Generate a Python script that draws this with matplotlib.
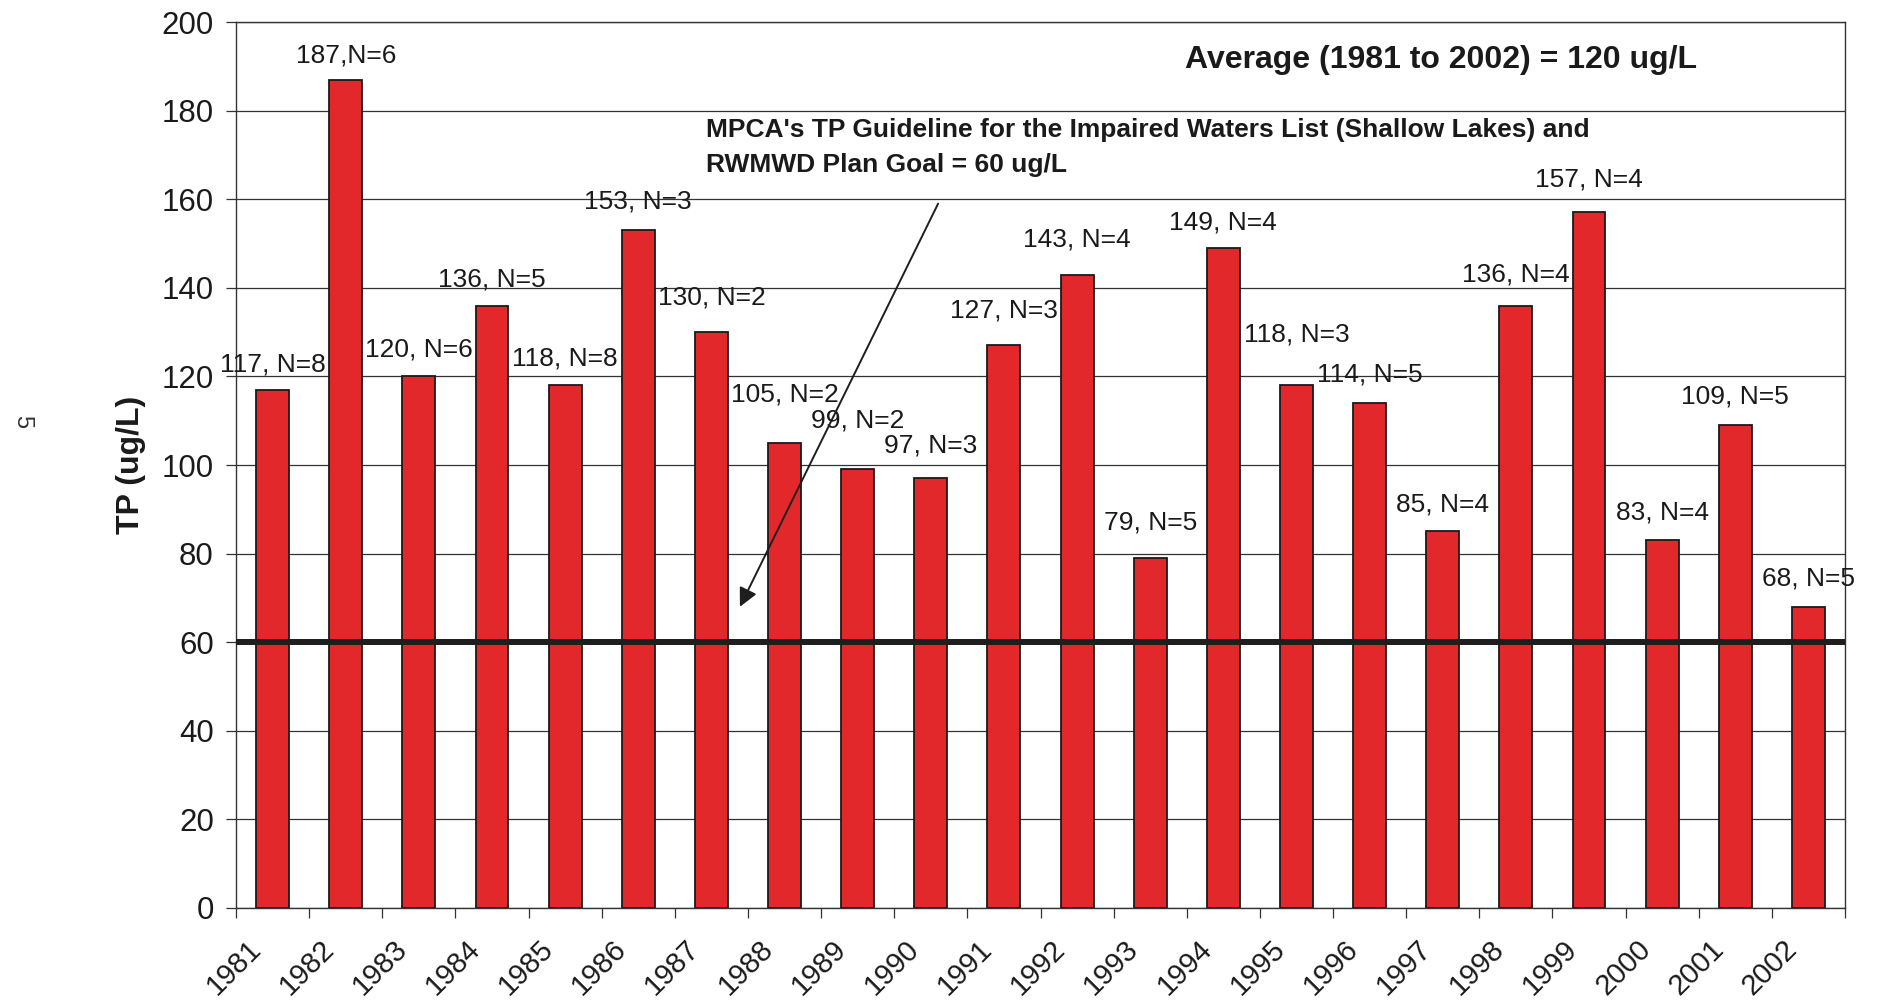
import matplotlib
matplotlib.use("Agg")
import matplotlib.pyplot as plt
from matplotlib.transforms import ScaledTranslation
import numpy as np

plt.rcParams['font.family'] = ['Liberation Sans', 'DejaVu Sans']

years = ['1981', '1982', '1983', '1984', '1985', '1986', '1987', '1988', '1989', '1990', '1991',
         '1992', '1993', '1994', '1995', '1996', '1997', '1998', '1999', '2000', '2001', '2002']
tp_values = [117, 187, 120, 136, 118, 153, 130, 105, 99, 97, 127,
             143, 79, 149, 118, 114, 85, 136, 157, 83, 109, 68]
n_samples = [8, 6, 6, 5, 8, 3, 2, 2, 2, 3, 3,
             4, 5, 4, 3, 5, 4, 4, 4, 4, 5, 5]
label_offsets = [6.3, 6.0, 6.6, 6.4, 6.6, 7.0, 8.4, 11.5, 11.6, 8.0, 8.5,
                 8.5, 8.5, 6.3, 12.0, 7.0, 6.6, 7.6, 8.0, 6.8, 7.0, 7.0]
guideline = 60
yticks = [0, 20, 40, 60, 80, 100, 120, 140, 160, 180, 200]

fig = plt.figure(figsize=(18.81, 10.06), dpi=100)
ax = fig.add_axes([0.12547, 0.09742, 0.8554, 0.8807])

x = np.arange(len(years))
ax.bar(x, tp_values, width=0.45, color='#E3282C', edgecolor='#1a1a1a', linewidth=1.3, zorder=2)

ax.set_xlim(-0.5, len(years) - 0.5)
ax.set_ylim(0, 200)
ax.set_yticks(yticks)
ax.set_yticklabels([str(v) for v in yticks], fontsize=22.5, color='#1a1a1a')
ax.yaxis.grid(True, color='#333333', linewidth=0.9)
ax.set_axisbelow(True)
ax.tick_params(axis='y', direction='out', length=7, width=0.9, pad=9, color='#333333')

ax.set_xticks(x)
ax.set_xticklabels(years, rotation=45, ha='right', va='top', rotation_mode='anchor',
                   fontsize=21, color='#1a1a1a')
ax.tick_params(axis='x', which='major', length=0, pad=19)
shift = ScaledTranslation(-26 / 100, 0, fig.dpi_scale_trans)
for lbl in ax.get_xticklabels():
    lbl.set_transform(lbl.get_transform() + shift)
ax.set_xticks(np.arange(-0.5, len(years)), minor=True)
ax.tick_params(axis='x', which='minor', direction='out', length=7, width=0.9, color='#333333')

for s in ax.spines.values():
    s.set_color('#333333')
    s.set_linewidth(1.0)

ax.axhline(guideline, color='#1e1e1e', linewidth=4.3, zorder=3)

for i, (v, n, off) in enumerate(zip(tp_values, n_samples, label_offsets)):
    sep = ',' if years[i] == '1982' else ', '
    ax.text(i, v + off - 2.1, f'{v}{sep}N={n}', ha='center', va='baseline',
            fontsize=19, color='#1a1a1a', zorder=4)

ax.set_ylabel('TP (ug/L)', fontsize=23, fontweight='bold', color='#1a1a1a')
ax.yaxis.set_label_coords(-0.056, 0.5)

ax.text(15.97, 191.4, 'Average (1981 to 2002) = 120 ug/L', ha='center', va='center',
        fontsize=23, fontweight='bold', color='#1a1a1a')
ax.text(5.92, 175.6, "MPCA's TP Guideline for the Impaired Waters List (Shallow Lakes) and",
        ha='left', va='center', fontsize=19, fontweight='bold', color='#1a1a1a')
ax.text(5.92, 167.7, 'RWMWD Plan Goal = 60 ug/L', ha='left', va='center',
        fontsize=19, fontweight='bold', color='#1a1a1a')

ax.annotate('', xy=(6.39, 68.0), xytext=(9.10, 159.0),
            arrowprops=dict(arrowstyle='-|>', color='#1e1e1e', lw=1.4, mutation_scale=28,
                            shrinkA=0, shrinkB=0), zorder=5)

fig.text(0.0117, 0.5805, '5', rotation=270, ha='center', va='center', fontsize=17, color='#333333')

fig.savefig('out.png', dpi=100)
